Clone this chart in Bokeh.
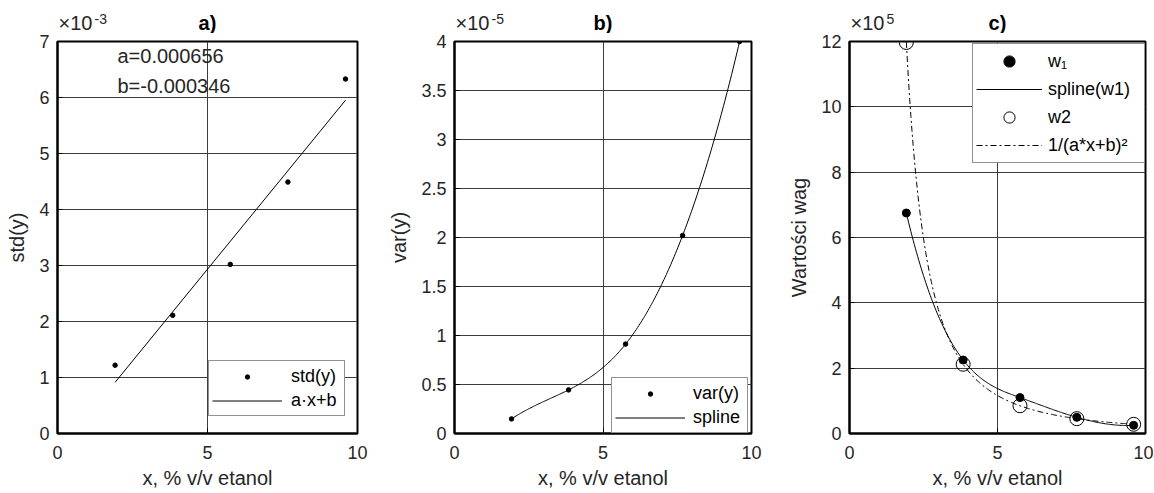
import numpy as np
from bokeh.plotting import figure
from bokeh.layouts import row, column
from bokeh.models import (Legend, LegendItem, Label, FixedTicker,
                          CustomJSTickFormatter, Range1d)
from bokeh.embed import file_html
from bokeh.resources import INLINE

# ---------------- data ----------------
x_conc = [1.92, 3.84, 5.76, 7.68, 9.6]
std_y = [1.22e-3, 2.11e-3, 3.02e-3, 4.49e-3, 6.33e-3]
var_y = [1.49e-6, 4.45e-6, 9.12e-6, 2.02e-5, 4.00e-5]
w1 = [6.75e5, 2.25e5, 1.10e5, 0.495e5, 0.25e5]
w2 = [11.97e5, 2.12e5, 0.85e5, 0.454e5, 0.282e5]
fit_a = 0.000656
fit_b = -0.000346

x_ticks = [0, 5, 10]
a_yticks = [0, 1e-3, 2e-3, 3e-3, 4e-3, 5e-3, 6e-3, 7e-3]
b_yticks = [0, 0.5e-5, 1e-5, 1.5e-5, 2e-5, 2.5e-5, 3e-5, 3.5e-5, 4e-5]
c_yticks = [0, 2e5, 4e5, 6e5, 8e5, 10e5, 12e5]

FONT = "Liberation Sans"
TXT = "#262626"
GRID = "#3c3c3c"
FRAME_W = 300
FRAME_H = 392
HEAD_H = 33
TOP_B = 8
BOT_B = 59


def spline_nak(x, y, xe):
    """Not-a-knot cubic spline (like MATLAB spline)."""
    x = np.asarray(x, float); y = np.asarray(y, float)
    n = len(x); h = np.diff(x); d = np.diff(y) / h
    A = np.zeros((n, n)); r = np.zeros(n)
    A[0, 0] = h[1]; A[0, 1] = -(h[0] + h[1]); A[0, 2] = h[0]
    A[-1, -3] = h[-1]; A[-1, -2] = -(h[-2] + h[-1]); A[-1, -1] = h[-2]
    for i in range(1, n - 1):
        A[i, i - 1] = h[i - 1]; A[i, i] = 2 * (h[i - 1] + h[i]); A[i, i + 1] = h[i]
        r[i] = 6 * (d[i] - d[i - 1])
    M = np.linalg.solve(A, r)
    xe = np.asarray(xe, float)
    idx = np.clip(np.searchsorted(x, xe) - 1, 0, n - 2)
    x0 = x[idx]; x1 = x[idx + 1]; hh = h[idx]
    return (M[idx] * (x1 - xe) ** 3 / (6 * hh) + M[idx + 1] * (xe - x0) ** 3 / (6 * hh)
            + (y[idx] / hh - M[idx] * hh / 6) * (x1 - xe)
            + (y[idx + 1] / hh - M[idx + 1] * hh / 6) * (xe - x0))


def make_panel(ymax, yticks, fmt, left, right, ylabel, title, exp_txt):
    xr = Range1d(0, 10)
    p = figure(width=left + FRAME_W + right, height=TOP_B + FRAME_H + BOT_B,
               x_range=xr, y_range=Range1d(0, ymax),
               output_backend="svg", toolbar_location=None,
               min_border_left=left, min_border_right=right,
               min_border_top=TOP_B, min_border_bottom=BOT_B)
    p.background_fill_color = "white"
    p.border_fill_color = "white"
    p.outline_line_color = "black"
    p.outline_line_width = 2
    p.xaxis.ticker = FixedTicker(ticks=x_ticks)
    p.yaxis.ticker = FixedTicker(ticks=yticks)
    p.yaxis.formatter = CustomJSTickFormatter(code=fmt)
    p.xgrid.ticker = FixedTicker(ticks=x_ticks)
    p.ygrid.ticker = FixedTicker(ticks=yticks)
    for g in (p.xgrid, p.ygrid):
        g.grid_line_color = GRID
        g.grid_line_width = 1
    for ax in (p.xaxis, p.yaxis):
        ax.axis_line_color = "black"
        ax.axis_line_width = 2
        ax.major_tick_in = 5
        ax.major_tick_out = 0
        ax.major_tick_line_color = "black"
        ax.minor_tick_line_color = None
        ax.major_label_text_font = FONT
        ax.major_label_text_font_size = "18px"
        ax.major_label_text_color = TXT
        ax.axis_label_text_font = FONT
        ax.axis_label_text_font_size = "20px"
        ax.axis_label_text_font_style = "normal"
        ax.axis_label_text_color = TXT
    p.xaxis.major_label_standoff = 12
    p.xaxis.axis_label_standoff = 5
    p.yaxis.major_label_standoff = 8
    p.yaxis.axis_label_standoff = 8
    p.xaxis.axis_label = "x, % v/v etanol"
    p.yaxis.axis_label = ylabel

    # header strip holding the panel title and the axis exponent
    h = figure(width=left + FRAME_W + right, height=HEAD_H, x_range=xr,
               y_range=Range1d(0, 1), x_axis_type=None, y_axis_type=None,
               output_backend="svg", toolbar_location=None,
               min_border_left=left, min_border_right=right,
               min_border_top=0, min_border_bottom=0)
    h.outline_line_color = None
    h.background_fill_color = "white"
    h.border_fill_color = "white"
    h.add_layout(Label(x=5, y=0, y_offset=0, text=title, text_align="center",
                       text_baseline="bottom", text_font=FONT,
                       text_font_size="20px", text_font_style="bold",
                       text_color="black"))
    h.add_layout(Label(x=0, y=0, x_offset=1, y_offset=0, text="×10",
                       text_baseline="bottom", text_font=FONT,
                       text_font_size="20px", text_color=TXT))
    h.add_layout(Label(x=0, y=0, x_offset=37, y_offset=10, text=exp_txt,
                       text_baseline="bottom", text_font=FONT,
                       text_font_size="14px", text_color=TXT))
    return p, h


def style_legend(leg, glyph_w, standoff, label_w, row_h, glyph_h):
    leg.label_text_font = FONT
    leg.label_text_font_size = "18px"
    leg.label_text_color = "black"
    leg.border_line_color = TXT
    leg.border_line_width = 1
    leg.background_fill_color = "white"
    leg.background_fill_alpha = 1
    leg.padding = 3
    leg.spacing = 0
    leg.margin = 0
    leg.glyph_width = glyph_w
    leg.glyph_height = glyph_h
    leg.label_height = row_h
    leg.label_width = label_w
    leg.label_standoff = standoff


# ---------------- panel a ----------------
pa, ha = make_panel(7e-3, a_yticks, "return String(Math.round(tick*1e3));",
                    57, 28, "std(y)", "a)", "-3")
fit_x = [x_conc[0], x_conc[-1]]
fit_y = [fit_a * v + fit_b for v in fit_x]
ra1 = pa.scatter(x_conc, std_y, size=4.5, color="black")
ra2 = pa.line(fit_x, fit_y, color="black", line_width=1)
pa.add_layout(Label(x=2.0, y=6.75e-3, text=f"a={fit_a:g}", text_baseline="middle",
                    text_font=FONT, text_font_size="20px", text_color=TXT))
pa.add_layout(Label(x=2.0, y=6.21e-3, text=f"b={fit_b:g}", text_baseline="middle",
                    text_font=FONT, text_font_size="20px", text_color=TXT))
la = Legend(items=[LegendItem(label="std(y)", renderers=[ra1]),
                   LegendItem(label="a·x+b", renderers=[ra2])], location=(151, 17))
style_legend(la, 70, 9, 50, 24, 11)
pa.add_layout(la)

# ---------------- panel b ----------------
pb, hb = make_panel(4e-5, b_yticks, "return String(Math.round(tick*1e6)/10);",
                    66, 34, "var(y)", "b)", "-5")
xs = np.linspace(x_conc[0], x_conc[-1], 200)
rb2 = pb.line(xs, spline_nak(x_conc, var_y, xs), color="black", line_width=1)
rb1 = pb.scatter(x_conc, var_y, size=4.5, color="black")
lb = Legend(items=[LegendItem(label="var(y)", renderers=[rb1]),
                   LegendItem(label="spline", renderers=[rb2])], location=(157, 0))
style_legend(lb, 70, 8, 51, 24, 11)
pb.add_layout(lb)

# ---------------- panel c ----------------
pc, hc = make_panel(12e5, c_yticks, "return String(Math.round(tick/1e5));",
                    60, 8, "Wartości wag", "c)", "5")
rc2 = pc.line(xs, spline_nak(x_conc, w1, xs), color="black", line_width=1)
model_y = 1.0 / (fit_a * xs + fit_b) ** 2
rc4 = pc.line(xs, model_y, color="black", line_width=1, line_dash="6 3 2 3")
rc3 = pc.scatter(x_conc, w2, size=14, fill_color=None, line_color="black", line_width=1)
rc1 = pc.scatter(x_conc, w1, size=8, color="black")
lc = Legend(items=[LegendItem(label="w₁", renderers=[rc1]),
                   LegendItem(label="spline(w1)", renderers=[rc2]),
                   LegendItem(label="w2", renderers=[rc3]),
                   LegendItem(label="1/(a*x+b)²", renderers=[rc4])], location=(123, 270))
style_legend(lc, 66, 6, 93, 28, 28)
pc.add_layout(lc)

layout = row(column(ha, pa), column(hb, pb), column(hc, pc))
open("out.html", "w").write(file_html(layout, INLINE))
